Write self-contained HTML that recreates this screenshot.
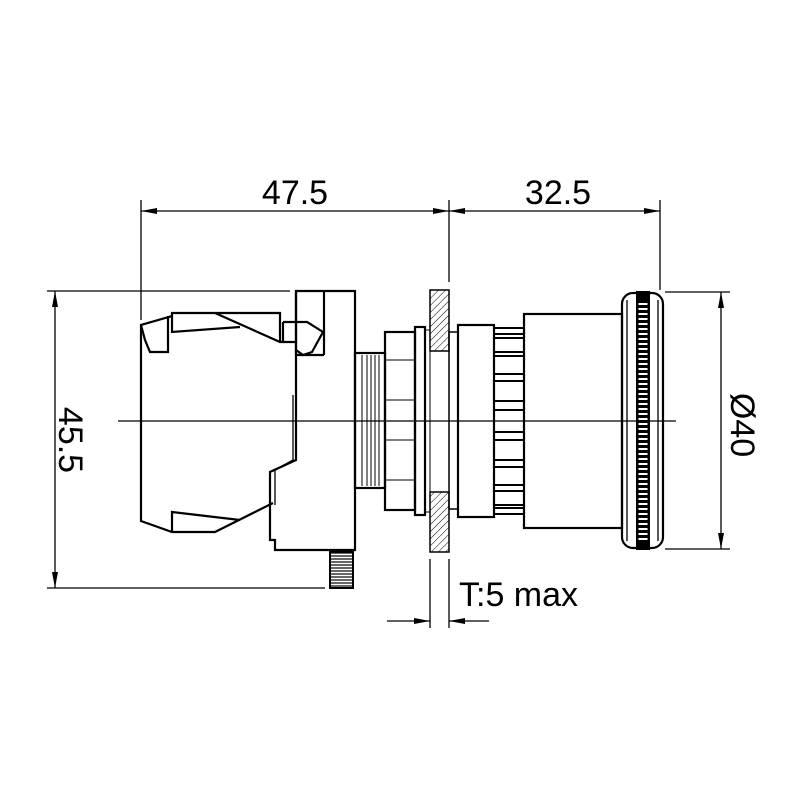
<!DOCTYPE html>
<html><head><meta charset="utf-8"><style>html,body{margin:0;padding:0;background:#fff}svg{display:block}</style></head>
<body>
<svg width="800" height="800" viewBox="0 0 800 800" xmlns="http://www.w3.org/2000/svg">
<defs>
<pattern id="h" width="5" height="5" patternUnits="userSpaceOnUse" patternTransform="rotate(45)"><line x1="0" y1="0" x2="0" y2="5" stroke="#000" stroke-width="1"/></pattern>
<pattern id="hz" width="4" height="3" patternUnits="userSpaceOnUse"><line x1="0" y1="1" x2="4" y2="1" stroke="#000" stroke-width="1.2"/></pattern>
<marker id="a" viewBox="0 0 16 6" refX="16" refY="3" markerWidth="16" markerHeight="6" markerUnits="userSpaceOnUse" orient="auto-start-reverse"><path d="M0,0L16,3L0,6z" fill="#000"/></marker>
</defs>
<g font-family="Liberation Sans, sans-serif" font-size="34" fill="#000">
<text x="295" y="204" text-anchor="middle">47.5</text>
<text x="558" y="204" text-anchor="middle">32.5</text>
<text x="459" y="606">T:5 max</text>
<text transform="translate(59,440) rotate(90)" text-anchor="middle">45.5</text>
<text transform="translate(731,425) rotate(90)" text-anchor="middle">Ø40</text>
</g>
<g stroke="#000" stroke-width="1.3" fill="none">
<line x1="141" y1="200" x2="141" y2="320"/>
<line x1="449" y1="200" x2="449" y2="282"/>
<line x1="660" y1="200" x2="660" y2="290"/>
<line x1="141" y1="211" x2="449" y2="211" marker-start="url(#a)" marker-end="url(#a)"/>
<line x1="449" y1="211" x2="660" y2="211" marker-start="url(#a)" marker-end="url(#a)"/>
<line x1="47" y1="291" x2="290" y2="291"/>
<line x1="47" y1="588" x2="325" y2="588"/>
<line x1="55" y1="291" x2="55" y2="588" marker-start="url(#a)" marker-end="url(#a)"/>
<line x1="665" y1="292" x2="730" y2="292"/>
<line x1="665" y1="549" x2="730" y2="549"/>
<line x1="721" y1="292" x2="721" y2="549" marker-start="url(#a)" marker-end="url(#a)"/>
<line x1="430" y1="559" x2="430" y2="628"/>
<line x1="449" y1="559" x2="449" y2="628"/>
<line x1="387" y1="621" x2="430" y2="621" marker-end="url(#a)"/>
<line x1="489" y1="621" x2="449" y2="621" marker-end="url(#a)"/>
<line x1="118" y1="421" x2="676" y2="421"/>
</g>
<g stroke="#000" stroke-width="2.2" fill="none" stroke-linejoin="miter">
<polyline points="280,342 280,313 172,313 172,316 141,325 141,521 172,532 215,532 273,503"/>
<polyline points="215,313 280,342 296,342"/>
<polyline points="172,316 172,332 240,327"/>
<polyline points="141,325 145,340 150,352 168,352 168,316"/>
<polyline points="172,532 172,512 240,520"/>
<polygon points="296,291 355,291 355,550 275,550 275,540 270,540 270,472 296,460"/>
<polyline points="296,291 296,355"/>
<line x1="324" y1="291" x2="324" y2="355"/>
<polyline points="283,322 307,322 323,332 312,352 303,355 296,350"/>
<line x1="283" y1="322" x2="283" y2="342"/>
<line x1="296" y1="355" x2="324" y2="355"/>
<polyline points="293,395 293,460 275,470 275,505" stroke-width="1.3"/>
<rect x="355" y="353" width="30" height="135"/>
<rect x="385" y="332" width="30" height="178"/>
<rect x="415" y="327" width="10" height="188"/>
<rect x="425" y="330" width="5" height="182" stroke-width="1"/>
<rect x="449" y="332" width="9" height="177" stroke-width="1.5"/>
<rect x="458" y="325" width="36" height="192"/>
<rect x="524" y="314" width="98" height="214"/>
<rect x="622" y="293" width="41" height="255" rx="11"/>
<line x1="627" y1="300" x2="627" y2="541" stroke-width="1.3"/>
<line x1="658" y1="300" x2="658" y2="541" stroke-width="1.3"/>
</g>
<g stroke="#000" stroke-width="1">
<line x1="362" y1="355" x2="362" y2="486"/><line x1="367" y1="355" x2="367" y2="486"/><line x1="371" y1="355" x2="371" y2="486"/><line x1="375" y1="355" x2="375" y2="486"/><line x1="379" y1="355" x2="379" y2="486"/>
<line x1="385" y1="360" x2="415" y2="360"/><line x1="385" y1="440" x2="415" y2="440"/><line x1="385" y1="480" x2="415" y2="480"/><line x1="385" y1="400" x2="415" y2="400"/>
</g>
<g stroke="#000" stroke-width="2" fill="none">
<rect x="494" y="328" width="30" height="6"/><rect x="494" y="338" width="30" height="14"/><rect x="494" y="356" width="30" height="18"/><rect x="494" y="381" width="30" height="20"/><rect x="494" y="410" width="30" height="22"/><rect x="494" y="440" width="30" height="20"/><rect x="494" y="467" width="30" height="18"/><rect x="494" y="491" width="30" height="14"/><rect x="494" y="508" width="30" height="6"/>
</g>
<rect x="430" y="290" width="19" height="61" fill="url(#h)" stroke="#000" stroke-width="1.5"/>
<rect x="430" y="492" width="19" height="60" fill="url(#h)" stroke="#000" stroke-width="1.5"/>
<rect x="330" y="552" width="23" height="36" fill="url(#hz)" stroke="#000" stroke-width="2"/>
<rect x="636" y="291" width="14" height="259" fill="#000"/>
<line x1="643" y1="303" x2="643" y2="540" stroke="#fff" stroke-width="9" stroke-dasharray="2 3"/>
</svg>
</body></html>
